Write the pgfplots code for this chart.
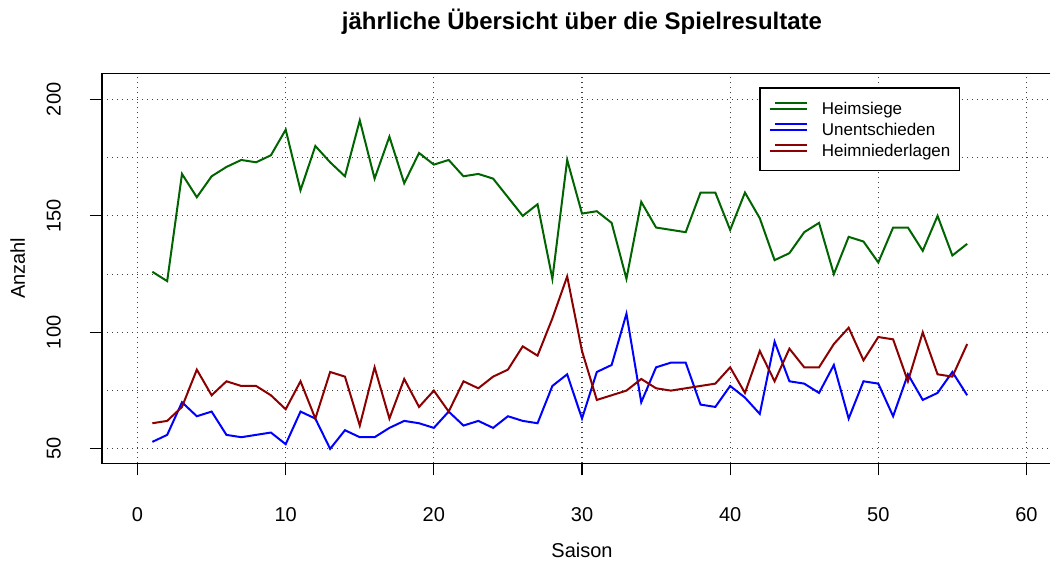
\documentclass[border=0pt]{standalone}
\usepackage{fontspec}
\setmainfont{Liberation Sans}
\usepackage{pgfplots}
\pgfplotsset{compat=1.18}
\definecolor{dgreen}{HTML}{006400}
\definecolor{dred}{HTML}{8B0000}
\begin{document}
\begin{tikzpicture}
\begin{axis}[
  scale only axis, width=480bp, height=195bp,
  xmin=-2.4, xmax=62.4, ymin=43.8, ymax=211.2,
  xtick={0,10,...,60}, ytick={50,100,150,200}, minor ytick={75,125,175},
  grid=both,
  major grid style={black!75, line width=0.6bp, dash pattern=on 0.6bp off 1.9bp},
  minor grid style={black!75, line width=0.6bp, dash pattern=on 0.6bp off 1.9bp},
  minor tick length=0pt, major tick length=6bp, tick align=outside, tick pos=left,
  tick style={black, line width=0.6bp},
  axis line style={black, line width=0.6bp},
  /pgf/number format/assume math mode=true,
  tick label style={font=\fontsize{10bp}{12bp}\selectfont},
  xticklabel style={anchor=base, inner sep=0pt},
  xticklabel shift=23bp,
  yticklabel style={rotate=90, anchor=south, inner sep=0pt},
  yticklabel shift=14.35bp,
  every axis x label/.style={at={(axis description cs:0.5,0)}, anchor=base, yshift=-46.85bp, font=\fontsize{10bp}{12bp}\selectfont},
  every axis y label/.style={at={(axis description cs:0,0.5)}, rotate=90, anchor=base, yshift=38.5bp, font=\fontsize{10bp}{12bp}\selectfont},
  every axis title/.style={at={(axis description cs:0.5,1)}, anchor=base, yshift=22.15bp, font=\bfseries\fontsize{12bp}{14bp}\selectfont},
  title={jährliche Übersicht über die Spielresultate},
  xlabel={Saison}, ylabel={Anzahl},
  legend style={at={(axis description cs:0.6847,0.9641)}, anchor=north west, draw=black, line width=0.6bp, fill=white,
    inner xsep=4.35bp, inner ysep=6.9bp, row sep=3.9bp, column sep=7.15bp,
    nodes={inner sep=0pt, text height=6.1bp, text depth=0pt},
    font=\fontsize{8.5bp}{10bp}\selectfont},
  legend cell align=left,
  legend image code/.code={\path (0bp,0bp) -- (18.5bp,0bp); \draw[#1, line width=1bp] (2.65bp,3.05bp) -- (18.5bp,3.05bp);},
]
\addplot[dgreen, line width=1bp, mark=none] coordinates {
(1,126) (2,122) (3,168) (4,158) (5,167) (6,171) (7,174) (8,173) (9,176) (10,187)
(11,161) (12,180) (13,173) (14,167) (15,191) (16,166) (17,184) (18,164) (19,177) (20,172)
(21,174) (22,167) (23,168) (24,166) (25,158) (26,150) (27,155) (28,123) (29,174) (30,151)
(31,152) (32,147) (33,123) (34,156) (35,145) (36,144) (37,143) (38,160) (39,160) (40,144)
(41,160) (42,149) (43,131) (44,134) (45,143) (46,147) (47,125) (48,141) (49,139) (50,130)
(51,145) (52,145) (53,135) (54,150) (55,133) (56,138)};
\addlegendentry{Heimsiege}
\addplot[blue, line width=1bp, mark=none] coordinates {
(1,53) (2,56) (3,70) (4,64) (5,66) (6,56) (7,55) (8,56) (9,57) (10,52)
(11,66) (12,63) (13,50) (14,58) (15,55) (16,55) (17,59) (18,62) (19,61) (20,59)
(21,66) (22,60) (23,62) (24,59) (25,64) (26,62) (27,61) (28,77) (29,82) (30,63)
(31,83) (32,86) (33,108) (34,70) (35,85) (36,87) (37,87) (38,69) (39,68) (40,77)
(41,72) (42,65) (43,96) (44,79) (45,78) (46,74) (47,86) (48,63) (49,79) (50,78)
(51,64) (52,82) (53,71) (54,74) (55,83) (56,73)};
\addlegendentry{Unentschieden}
\addplot[dred, line width=1bp, mark=none] coordinates {
(1,61) (2,62) (3,68) (4,84) (5,73) (6,79) (7,77) (8,77) (9,73) (10,67)
(11,79) (12,63) (13,83) (14,81) (15,60) (16,85) (17,63) (18,80) (19,68) (20,75)
(21,66) (22,79) (23,76) (24,81) (25,84) (26,94) (27,90) (28,106) (29,124) (30,92)
(31,71) (32,73) (33,75) (34,80) (35,76) (36,75) (37,76) (38,77) (39,78) (40,85)
(41,74) (42,92) (43,79) (44,93) (45,85) (46,85) (47,95) (48,102) (49,88) (50,98)
(51,97) (52,79) (53,100) (54,82) (55,81) (56,95)};
\addlegendentry{Heimniederlagen}
\end{axis}
\pgfresetboundingbox
\useasboundingbox (-51bp,-49.85bp) rectangle (474bp,231.65bp);
\end{tikzpicture}
\end{document}
